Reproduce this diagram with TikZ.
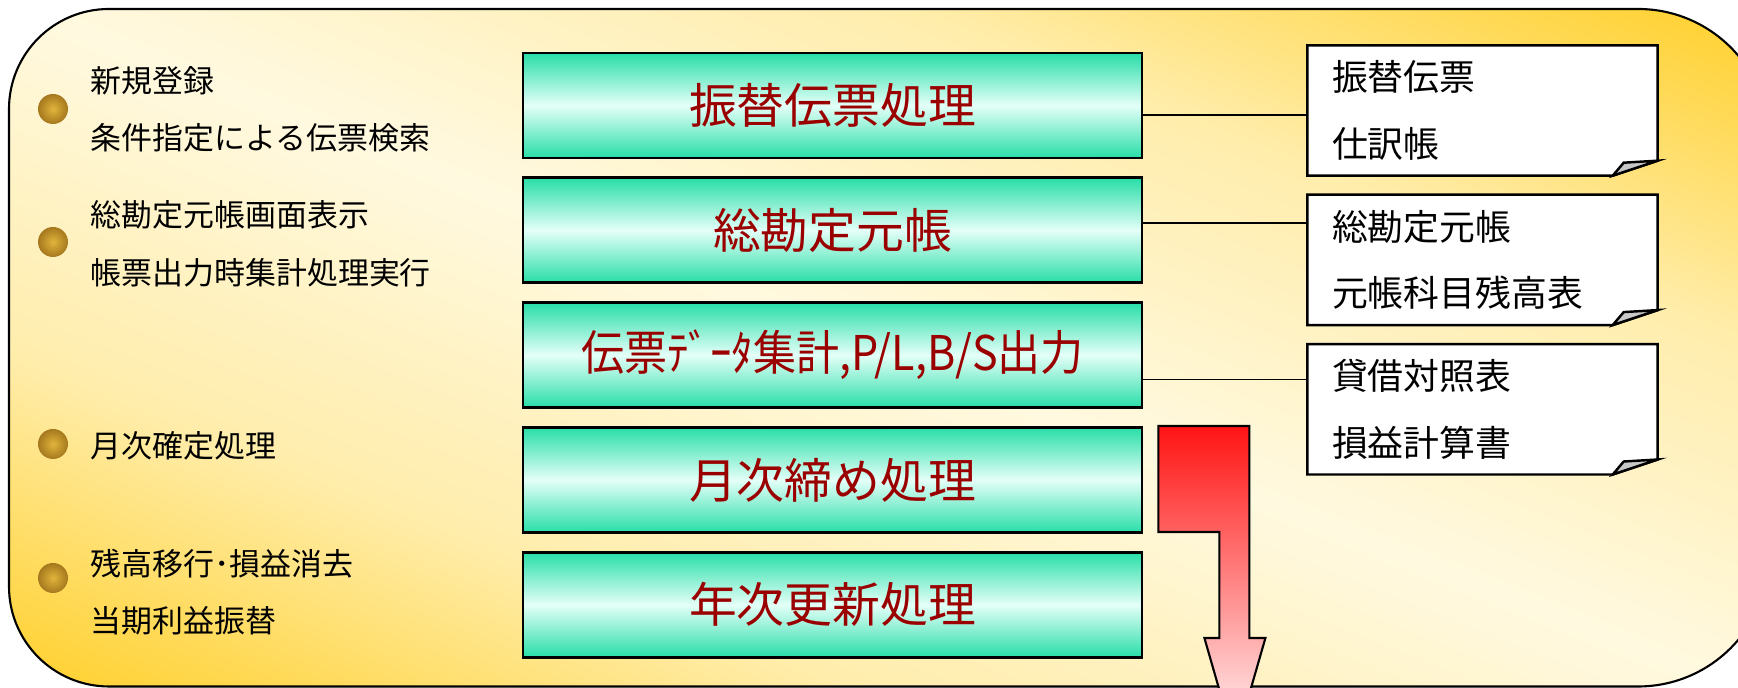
\documentclass[tikz,border=0pt]{standalone}
\usepackage{fontspec}
\setmainfont{Noto Sans CJK JP}
\usetikzlibrary{positioning}
\pgfdeclarelayer{bg}
\pgfsetlayers{bg,main}
\definecolor{gold}{RGB}{255,206,36}
\definecolor{cream}{RGB}{255,249,224}
\colorlet{goldmix}{gold!28!cream}
\definecolor{mint}{RGB}{40,222,168}
\definecolor{mintlight}{RGB}{228,255,248}
\definecolor{darkred}{RGB}{155,0,0}
\definecolor{flap}{RGB}{200,200,200}
\definecolor{arrowtop}{RGB}{255,20,20}
\definecolor{arrowbottom}{RGB}{255,250,250}
\definecolor{beadlight}{RGB}{225,180,60}
\definecolor{beaddark}{RGB}{165,120,30}
\pgfdeclareverticalshading{framefill}{100bp}{color(0bp)=(gold); color(25bp)=(gold);
  color(37.5bp)=(goldmix); color(50bp)=(cream); color(62.5bp)=(goldmix);
  color(75bp)=(gold); color(100bp)=(gold)}
\tikzset{
  frame/.style={line width=0.6pt, path picture={
    \begin{scope}[transform canvas={rotate around={-21.6:(8.69,3.44)}}]
      \shade[shading=framefill] (-1.31,-3.06) rectangle (18.69,9.94);
    \end{scope}}},
  stage/.style={draw, line width=0.8pt, minimum width=6.19cm, minimum height=1.05cm,
    top color=mint, bottom color=mint, middle color=mintlight,
    text=darkred, font=\fontsize{13.6}{16}\selectfont},
  note/.style={anchor=west, align=left, inner sep=0pt, font=\fontsize{8.8}{16.4}\selectfont},
  bullet/.style={circle, minimum size=0.3cm, inner sep=0pt, inner color=beadlight, outer color=beaddark},
  ledger/.style={minimum width=3.49cm, minimum height=1.29cm, inner xsep=0.24cm,
    text width=3.01cm, align=left, font=\fontsize{10.2}{19}\selectfont},
  link/.style={line width=0.5pt},
  flow/.style={draw, line width=0.6pt, top color=arrowtop, bottom color=arrowbottom},
}
\begin{document}
\begin{tikzpicture}
\useasboundingbox (0,0) rectangle (17.38,6.88);
\begin{pgfonlayer}{bg}
\draw[frame]
  (1.09,6.79) -- (16.38,6.79) arc[start angle=90, end angle=0, radius=1.31]
  -- (17.69,1.325) arc[start angle=0, end angle=-90, radius=1.31]
  -- (1.09,0.015) arc[start angle=270, end angle=180, radius=1.0]
  -- (0.09,5.79) arc[start angle=180, end angle=90, radius=1.0] -- cycle;
\end{pgfonlayer}

\node[bullet] (b1) at (0.53,5.79) {};
\node[note] (t1) at (0.90,5.785) {新規登録\\条件指定による伝票検索};
\node[bullet] (b2) at (0.53,4.46) {};
\node[note] (t2) at (0.90,4.445) {総勘定元帳画面表示\\帳票出力時集計処理実行};
\node[bullet] (b3) at (0.53,2.44) {};
\node[note] (t3) at (0.90,2.42) {月次確定処理};
\node[bullet] (b4) at (0.53,1.10) {};
\node[note] (t4) at (0.90,0.96) {残高移行･損益消去\\当期利益振替};

\node[stage] (sw) at (8.325,5.825) {振替伝票処理};
\node[stage, below=0.17cm of sw] (gl) {総勘定元帳};
\node[stage, below=0.17cm of gl] (agg) {\scalebox{0.9}[1]{伝票ﾃﾞｰﾀ集計,P/L,B/S出力}};
\node[stage, below=0.17cm of agg] (mc) {月次締め処理};
\node[stage, below=0.17cm of mc] (yu) {年次更新処理};

\node[ledger] (list1) at (14.825,5.775) {振替伝票\\仕訳帳};
\node[ledger, below=0.19cm of list1] (list2) {総勘定元帳\\元帳科目残高表};
\node[ledger, below=0.19cm of list2] (list3) {貸借対照表\\損益計算書};

\begin{pgfonlayer}{bg}
\foreach \d in {list1,list2,list3}{
  \draw[line width=0.7pt, fill=white] (\d.north west) -- (\d.north east) -- ([yshift=0.15cm]\d.south east)
    -- ([xshift=-0.45cm]\d.south east) -- (\d.south west) -- cycle;
  \draw[line width=0.7pt, fill=flap] ([xshift=-0.45cm]\d.south east) -- ([xshift=-0.34cm,yshift=0.13cm]\d.south east)
    -- ([yshift=0.15cm]\d.south east) -- cycle;
}
\end{pgfonlayer}

\draw[link] ([yshift=-0.095cm]sw.east) -- ([yshift=-0.095cm]sw.east -| list1.west);
\draw[link] ([yshift=0.075cm]gl.east) -- ([yshift=0.075cm]gl.east -| list2.west);
\draw[link] ([yshift=-0.245cm]agg.east) -- ([yshift=-0.245cm]agg.east -| list3.west);

\draw[flow] ([xshift=0.15cm]mc.north east) -- ++(0.91,0) -- ++(0,-2.12) -- ++(0.16,0)
  -- ++(-0.305,-1.06) -- ++(-0.305,1.06) -- ++(0.15,0) -- ++(0,1.06) -- ++(-0.61,0) -- cycle;
\end{tikzpicture}
\end{document}
